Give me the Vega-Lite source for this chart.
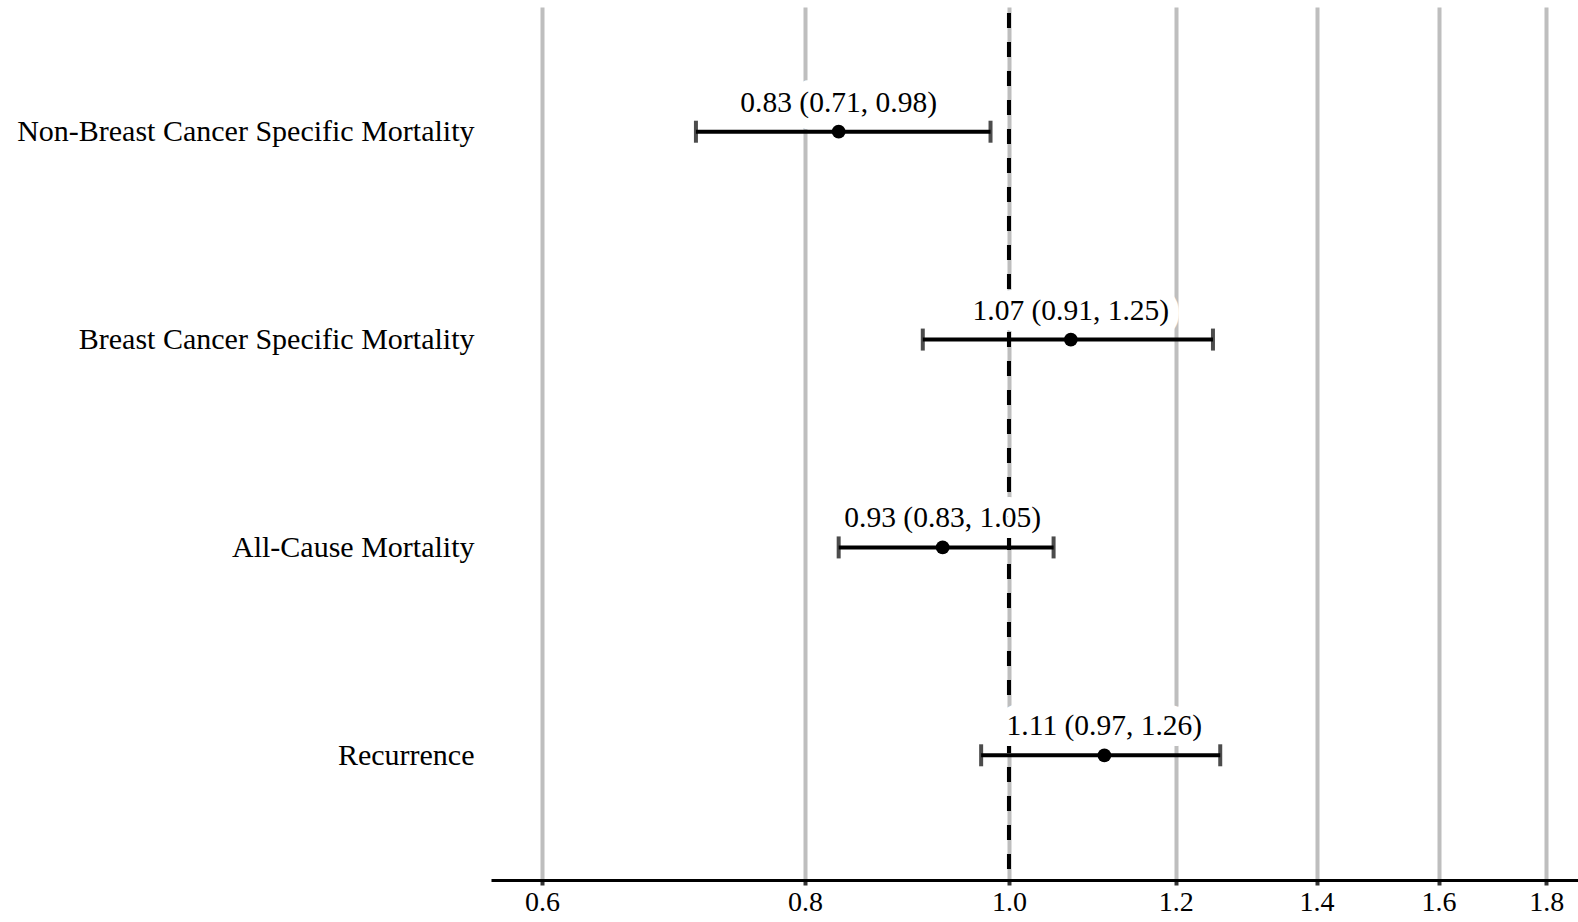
{
  "$schema": "https://vega.github.io/schema/vega-lite/v6.json",
  "autosize": {"type": "none"},
  "width": 1087,
  "height": 873,
  "padding": {"left": 491, "top": 7, "right": 0, "bottom": 42},
  "background": "white",
  "config": {
    "view": {"stroke": null},
    "font": "Liberation Serif"
  },
  "data": {
    "values": [
      {"outcome": "Non-Breast Cancer Specific Mortality", "est": 0.83, "lo": 0.71, "hi": 0.98, "label": "0.83 (0.71, 0.98)"},
      {"outcome": "Breast Cancer Specific Mortality", "est": 1.07, "lo": 0.91, "hi": 1.25, "label": "1.07 (0.91, 1.25)"},
      {"outcome": "All-Cause Mortality", "est": 0.93, "lo": 0.83, "hi": 1.05, "label": "0.93 (0.83, 1.05)"},
      {"outcome": "Recurrence", "est": 1.11, "lo": 0.97, "hi": 1.26, "label": "1.11 (0.97, 1.26)"}
    ]
  },
  "encoding": {
    "y": {
      "field": "outcome",
      "type": "nominal",
      "sort": null,
      "scale": {"type": "point", "padding": 0.6},
      "axis": {
        "title": null,
        "domain": false,
        "ticks": false,
        "labelPadding": 17,
        "labelFont": "Liberation Serif",
        "labelFontSize": 30,
        "labelColor": "black",
        "labelLimit": 600
      }
    }
  },
  "layer": [
    {
      "mark": {"type": "rule", "color": "black", "strokeWidth": 4, "strokeDash": [15, 14], "strokeDashOffset": 23},
      "encoding": {
        "x": {"datum": 1, "type": "quantitative", "scale": {"type": "log", "domain": [0.5674, 1.8636], "nice": false, "zero": false}},
        "y": null
      }
    },
    {
      "mark": {"type": "text", "color": "white", "stroke": "white", "strokeWidth": 22, "strokeJoin": "round", "fontSize": 29.5, "font": "Liberation Serif", "dy": -29, "baseline": "middle"},
      "encoding": {"x": {"field": "est", "type": "quantitative"}, "text": {"field": "label"}}
    },
    {
      "mark": {"type": "rule", "color": "black", "strokeWidth": 4},
      "encoding": {
        "x": {
          "field": "lo",
          "type": "quantitative",
          "scale": {"type": "log", "domain": [0.5674, 1.8636], "nice": false, "zero": false},
          "axis": {
            "title": null,
            "values": [0.6, 0.8, 1.0, 1.2, 1.4, 1.6, 1.8],
            "format": ".1f",
            "grid": true,
            "gridColor": "#bebebe",
            "gridWidth": 4,
            "domainColor": "black",
            "domainWidth": 3,
            "tickColor": "#333333",
            "tickWidth": 4,
            "tickSize": 5,
            "labelFont": "Liberation Serif",
            "labelFontSize": 28,
            "labelColor": "black",
            "labelPadding": 3
          }
        },
        "x2": {"field": "hi"}
      }
    },
    {
      "mark": {"type": "tick", "color": "black", "thickness": 4, "size": 22, "orient": "vertical"},
      "encoding": {"x": {"field": "lo", "type": "quantitative"}}
    },
    {
      "mark": {"type": "tick", "color": "black", "thickness": 4, "size": 22, "orient": "vertical"},
      "encoding": {"x": {"field": "hi", "type": "quantitative"}}
    },
    {
      "mark": {"type": "point", "filled": true, "color": "black", "size": 190, "opacity": 1},
      "encoding": {"x": {"field": "est", "type": "quantitative"}}
    },
    {
      "mark": {"type": "text", "color": "black", "fontSize": 29.5, "font": "Liberation Serif", "dy": -29, "baseline": "middle"},
      "encoding": {"x": {"field": "est", "type": "quantitative"}, "text": {"field": "label"}}
    }
  ]
}
